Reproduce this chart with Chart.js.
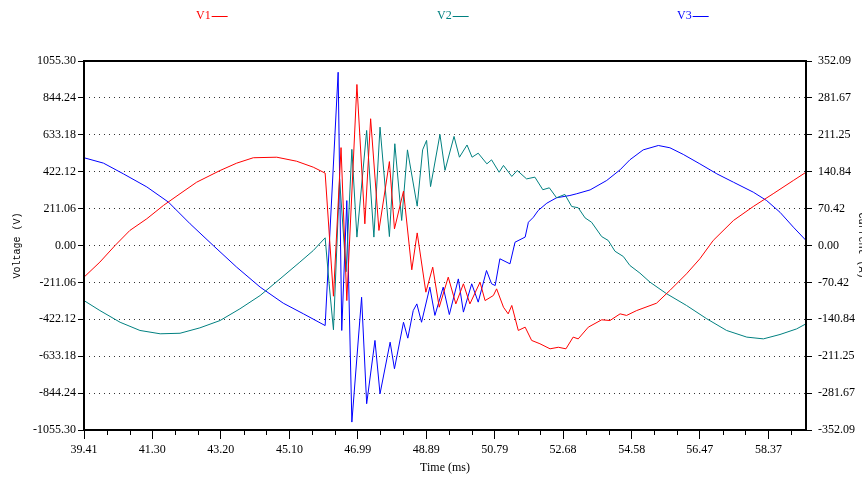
<!DOCTYPE html>
<html><head><meta charset="utf-8">
<script src="https://cdn.jsdelivr.net/npm/chart.js@4/dist/chart.umd.min.js"></script>
<style>html,body{margin:0;padding:0;background:#fff;}#wrap{position:relative;width:862px;height:479px;}</style>
</head><body><div id="wrap"><canvas id="c" width="862" height="479"></canvas></div>
<script>
// ---- data ----
const seriesNames = ['V1', 'V2', 'V3'];
const seriesColors = ['#ff0000', '#008080', '#0000ff'];
const timeRange = [39.41, 59.41];

const v1Time = [39.41,39.85,40.27,40.68,41.15,41.61,42.07,42.53,43.18,43.64,44.10,44.75,45.30,45.76,46.09,46.32,46.53,46.69,46.97,47.19,47.35,47.58,47.87,48.01,48.26,48.49,48.64,48.88,49.07,49.25,49.50,49.71,49.92,50.10,50.38,50.52,50.75,50.84,51.03,51.16,51.26,51.44,51.63,51.81,52.04,52.32,52.55,52.76,52.96,53.10,53.38,53.75,53.98,54.26,54.44,54.72,55.27,55.64,56.10,56.47,56.84,57.40,57.95,58.50,59.06,59.41];
const v1Volts = [-181,-95,0,86,153,229,296,362,429,471,502,505,482,448,414,-290,560,-315,921,124,725,86,480,95,311,-139,72,-267,-124,-353,-181,-334,-219,-334,-210,-315,-286,-248,-353,-391,-343,-486,-467,-543,-562,-591,-582,-591,-524,-534,-467,-425,-429,-391,-400,-372,-330,-257,-162,-76,29,143,223,296,372,419];

const v2Time = [39.41,39.85,40.41,40.96,41.52,42.07,42.62,43.18,43.73,44.29,44.84,45.39,45.76,46.09,46.20,46.32,46.49,46.67,46.83,46.97,47.24,47.44,47.61,47.87,48.02,48.21,48.37,48.64,48.79,48.90,49.01,49.27,49.41,49.66,49.81,50.02,50.16,50.33,50.57,50.70,50.91,51.03,51.26,51.41,51.67,51.90,52.12,52.30,52.50,52.73,52.92,53.10,53.29,53.47,53.75,53.93,54.12,54.35,54.53,54.81,55.09,55.55,56.10,56.66,57.21,57.77,58.23,58.69,59.15,59.41];
const v2Volts = [-315,-372,-439,-486,-505,-502,-471,-429,-362,-286,-191,-95,-29,44,-219,-482,380,-150,550,48,658,48,677,51,582,143,547,225,547,601,337,635,430,624,505,575,505,528,467,490,419,458,395,429,381,391,319,330,273,292,223,216,158,133,51,29,-33,-63,-114,-158,-210,-276,-343,-419,-486,-524,-534,-509,-477,-448];

const v3Time = [39.41,39.95,40.50,41.15,41.75,42.35,42.99,43.64,44.29,44.93,45.49,46.09,46.45,46.55,46.69,46.83,47.10,47.24,47.47,47.61,47.89,48.01,48.26,48.38,48.53,48.63,48.76,48.99,49.13,49.36,49.53,49.78,49.92,50.15,50.33,50.56,50.70,50.80,50.93,51.21,51.35,51.63,51.72,51.86,51.99,52.23,52.50,52.87,53.06,53.43,53.89,54.26,54.53,54.90,55.32,55.64,56.01,56.47,56.94,57.40,57.95,58.32,58.69,59.06,59.41];
const v3Volts = [502,471,410,335,248,124,0,-124,-238,-330,-391,-458,991,-486,257,-1010,-296,-905,-543,-848,-553,-705,-439,-530,-372,-334,-439,-238,-400,-238,-395,-191,-381,-219,-324,-143,-219,-229,-76,-105,19,48,133,162,200,242,273,286,296,318,372,433,490,547,572,559,521,467,410,362,305,257,190,105,29];

const xTickLabels = ['39.41','41.30','43.20','45.10','46.99','48.89','50.79','52.68','54.58','56.47','58.37'];
const yLeftTickLabels = ['-1055.30','-844.24','-633.18','-422.12','-211.06','0.00','211.06','422.12','633.18','844.24','1055.30'];
const yRightTickLabels = ['-352.09','-281.67','-211.25','-140.84','-70.42','0.00','70.42','140.84','211.25','281.67','352.09'];

const xTitle = 'Time (ms)';
const yLeftTitle = 'Voltage (V)';
const yRightTitle = 'Current (A)';

// ---- build ----
function pts(t, v) { const n = Math.min(t.length, v.length); const a = []; for (let i = 0; i < n; i++) a.push({x: t[i], y: v[i]}); return a; }
const seriesTimes = [v1Time, v2Time, v3Time];
const seriesVals = [v1Volts, v2Volts, v3Volts];
const xTickVals = xTickLabels.map(parseFloat);
const yLTickVals = yLeftTickLabels.map(parseFloat);
const yRTickVals = yRightTickLabels.map(parseFloat);

const serif = "'Liberation Serif', 'Times New Roman', serif";
const mono = "'Liberation Mono', 'Courier New', monospace";

const framePlugin = {
  id: 'frame',
  afterDraw(chart) {
    const {ctx, chartArea: a, scales} = chart;
    ctx.save();
    // minor x ticks
    const xs = scales.x;
    const step = (xTickVals[xTickVals.length - 1] - xTickVals[0]) / (xTickVals.length - 1);
    const sub = 3;
    ctx.strokeStyle = '#000'; ctx.lineWidth = 1;
    for (let i = 0; i < xTickVals.length; i++) {
      for (let k = 1; k < sub; k++) {
        const v = xTickVals[i] + k * step / sub;
        if (v >= xs.max) continue;
        const px = Math.round(xs.getPixelForValue(v)) + 0.5;
        ctx.beginPath(); ctx.moveTo(px, a.bottom); ctx.lineTo(px, a.bottom + 5); ctx.stroke();
      }
    }
    // frame
    ctx.lineWidth = 2; ctx.strokeStyle = '#000';
    ctx.strokeRect(Math.round(a.left), Math.round(a.top), Math.round(a.right - a.left), Math.round(a.bottom - a.top));
    // legend
    ctx.font = '12px ' + serif; ctx.textBaseline = 'middle'; ctx.textAlign = 'left';
    const legendX = [196, 437, 677];
    seriesNames.forEach((n, i) => {
      ctx.fillStyle = seriesColors[i];
      ctx.fillText(n, legendX[i], 16);
      const w = ctx.measureText(n).width;
      ctx.strokeStyle = seriesColors[i]; ctx.lineWidth = 1;
      ctx.beginPath(); ctx.moveTo(legendX[i] + w + 1, 16.5); ctx.lineTo(legendX[i] + w + 17, 16.5); ctx.stroke();
    });
    ctx.restore();
  }
};

new Chart(document.getElementById('c'), {
  type: 'line',
  data: {
    datasets: seriesNames.map((n, i) => ({
      label: n, data: pts(seriesTimes[i], seriesVals[i]), yAxisID: 'y',
      borderColor: seriesColors[i], borderWidth: 1, pointRadius: 0, tension: 0, fill: false
    }))
  },
  options: {
    responsive: false, animation: false, devicePixelRatio: 1,
    layout: {padding: {top: 61, left: 0, right: 0, bottom: 0}},
    plugins: {legend: {display: false}, title: {display: false}, tooltip: {enabled: false}},
    scales: {
      x: {
        type: 'linear', position: 'bottom', min: timeRange[0], max: timeRange[1],
        afterBuildTicks: s => { s.ticks = xTickVals.map(v => ({value: v})); },
        afterFit: s => { s.height = 49; },
        ticks: {autoSkip: false, maxRotation: 0, padding: 4, color: '#000', font: {family: serif, size: 12},
          callback: (v, i) => xTickLabels[i]},
        grid: {drawOnChartArea: false, drawTicks: true, tickLength: 9, tickColor: '#000', color: '#000'},
        border: {display: false},
        title: {display: true, text: xTitle, color: '#000', font: {family: serif, size: 12}, padding: {top: 0, bottom: 4}}
      },
      y: {
        type: 'linear', position: 'left', min: yLTickVals[0], max: yLTickVals[yLTickVals.length - 1],
        afterBuildTicks: s => { s.ticks = yLTickVals.map(v => ({value: v})); },
        afterFit: s => { s.width = 84; },
        ticks: {autoSkip: false, padding: 2, color: '#000', font: {family: serif, size: 12},
          callback: (v, i) => yLeftTickLabels[i]},
        grid: {drawOnChartArea: true, color: '#333', lineWidth: 1, tickLength: 6, tickColor: '#000', tickBorderDash: []},
        border: {display: false, dash: [1, 4]},
        title: {display: true, text: yLeftTitle, color: '#000', font: {family: mono, size: 10}, padding: {top: 11, bottom: 0}}
      },
      y2: {
        type: 'linear', position: 'right', display: true, min: yRTickVals[0], max: yRTickVals[yRTickVals.length - 1],
        afterBuildTicks: s => { s.ticks = yRTickVals.map(v => ({value: v})); },
        afterFit: s => { s.width = 56; },
        ticks: {autoSkip: false, padding: 6, color: '#000', font: {family: serif, size: 12},
          callback: (v, i) => yRightTickLabels[i]},
        grid: {drawOnChartArea: false, tickLength: 6, tickColor: '#000'},
        border: {display: false},
        title: {display: true, text: yRightTitle, color: '#000', font: {family: mono, size: 10}, padding: {top: -6, bottom: 0}}
      }
    }
  },
  plugins: [framePlugin]
});
</script></body></html>
